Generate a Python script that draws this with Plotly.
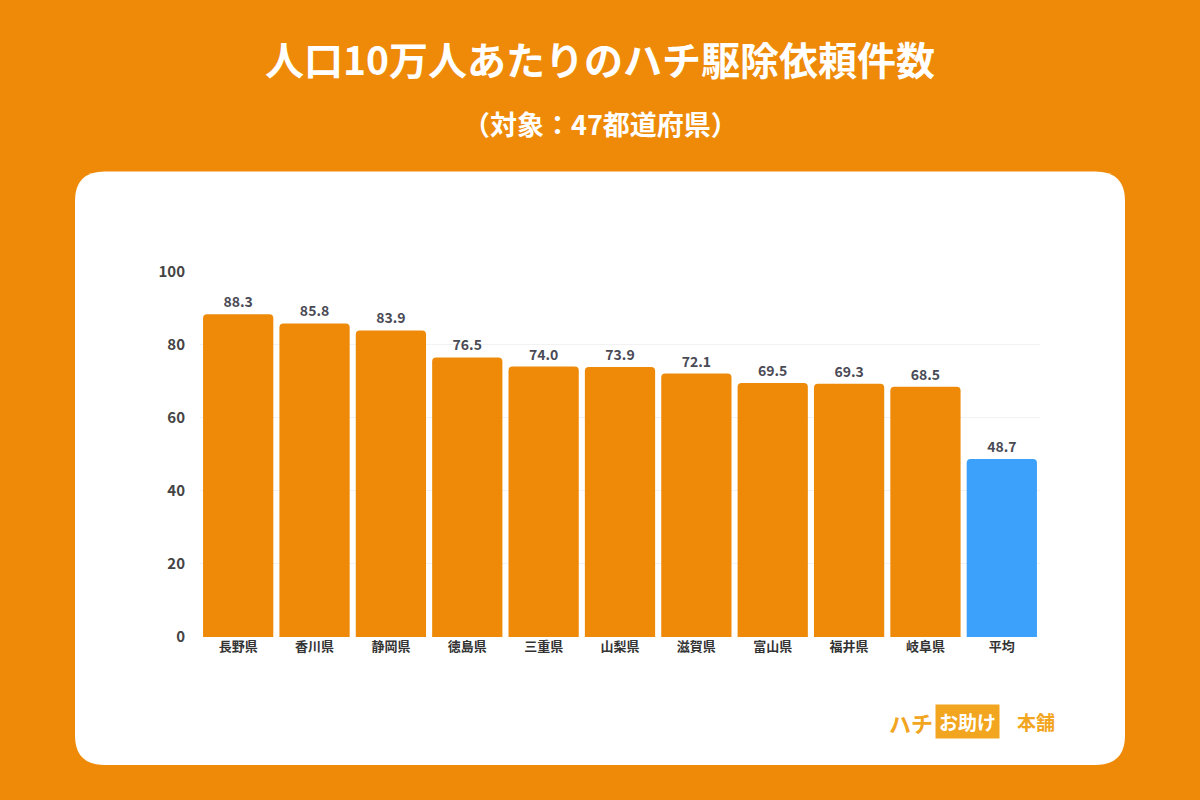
import plotly.graph_objects as go

prefectures = ["長野県", "香川県", "静岡県", "徳島県", "三重県", "山梨県", "滋賀県", "富山県", "福井県", "岐阜県", "平均"]
requests_per_100k = [88.3, 85.8, 83.9, 76.5, 74.0, 73.9, 72.1, 69.5, 69.3, 68.5, 48.7]
y_ticks = [0, 20, 40, 60, 80, 100]

ORANGE = "#EE8A08"
BLUE = "#3BA1FA"
LOGO = "#F2A51E"
FONT = "Noto Sans CJK JP"

colors = [BLUE if p == "平均" else ORANGE for p in prefectures]


def py(p):
    # pixel row in the target -> paper y (compensates the renderer's vertical squeeze)
    q = (p - 12.6) / 0.973
    return 1 - q / 800


fig = go.Figure(go.Bar(
    x=prefectures, y=requests_per_100k,
    marker=dict(color=colors, cornerradius=4, line=dict(width=0)),
    text=[f"<b>{v:.1f}</b>" for v in requests_per_100k],
    textposition="outside", cliponaxis=False,
    textfont=dict(family=FONT, size=14, color="#4a4a55"),
))

# white rounded card
x0, x1, y0, y1, r = 75 / 1200, 1125 / 1200, py(765), py(172), 30
rx, ry = r / 1200, r / 800
card = (f"M {x0+rx},{y0} L {x1-rx},{y0} Q {x1},{y0} {x1},{y0+ry} L {x1},{y1-ry} "
        f"Q {x1},{y1} {x1-rx},{y1} L {x0+rx},{y1} Q {x0},{y1} {x0},{y1-ry} "
        f"L {x0},{y0+ry} Q {x0},{y0} {x0+rx},{y0} Z")

fig.update_layout(
    width=1200, height=800,
    margin=dict(l=0, r=0, t=0, b=0),
    paper_bgcolor=ORANGE, plot_bgcolor="rgba(0,0,0,0)",
    showlegend=False, bargap=0.08,
    shapes=[dict(type="path", path=card, xref="paper", yref="paper",
                 fillcolor="white", line=dict(width=0), layer="below")],
    xaxis=dict(domain=[200 / 1200, 1040 / 1200], showgrid=False, showline=False,
               tickvals=prefectures, ticktext=[f"<b>{p}</b>" for p in prefectures],
               tickfont=dict(family=FONT, size=13, color="#333"), ticks=""),
    yaxis=dict(domain=[py(637), py(272)], range=[0, 100], tickvals=y_ticks,
               ticktext=[f"<b>{t}</b>" for t in y_ticks],
               showgrid=True, gridcolor="#f2f2f2", zeroline=False, ticks="",
               ticklabelstandoff=14,
               tickfont=dict(family=FONT, size=15, color="#444")),
    annotations=[
        dict(text="<b>人口10万人あたりのハチ駆除依頼件数</b>", x=0.5, y=py(59),
             xref="paper", yref="paper", showarrow=False, yanchor="middle",
             font=dict(family=FONT, size=39, color="white")),
        dict(text="<b>（対象：47都道府県）</b>", x=0.5, y=py(124),
             xref="paper", yref="paper", showarrow=False, yanchor="middle",
             font=dict(family=FONT, size=27, color="white")),
        dict(text="<b>ハチ</b>", x=935 / 1200, y=py(722),
             xref="paper", yref="paper", showarrow=False, yanchor="middle",
             font=dict(family=FONT, size=22, color=LOGO)),
        dict(text="<b>お助け</b>", x=1000 / 1200, y=py(722),
             xref="paper", yref="paper", showarrow=False, bgcolor=LOGO,
             borderpad=3, yanchor="middle",
             font=dict(family=FONT, size=19, color="white")),
        dict(text="<b>本舗</b>", x=1057 / 1200, y=py(722),
             xref="paper", yref="paper", showarrow=False, yanchor="middle",
             font=dict(family=FONT, size=19, color=LOGO)),
    ],
)

fig.write_html("out.html", config={"displayModeBar": False},
               post_script="document.body.style.margin='0';")
